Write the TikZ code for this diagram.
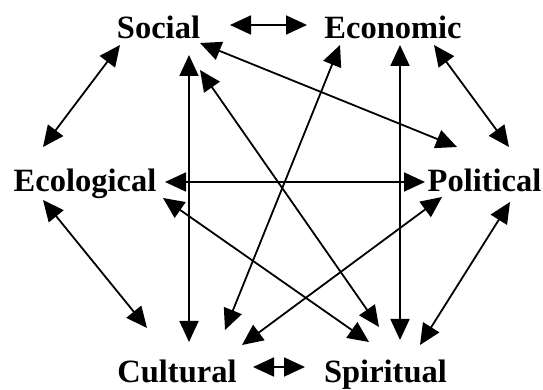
\documentclass[tikz,border=0pt]{standalone}
\usepackage{fontspec}
\setmainfont{Liberation Serif}
\usepackage{tikz}
\usetikzlibrary{arrows.meta, calc}

\begin{document}
\begin{tikzpicture}[x=1pt, y=1pt, >={Triangle[length=21pt, width=19pt]}, line width=1.8pt,
        dim/.style={font=\bfseries\fontsize{32.5}{36}\selectfont, inner sep=0pt, anchor=base}]
            \useasboundingbox (0, 0) rectangle (543, 390);
            \node[dim] (soc) at (158.5, 351) {Social};
            \node[dim] (econ) at (393, 351) {Economic};
            \node[dim] (ecol) at (85, 198) {Ecological};
            \node[dim] (pol) at (484.5, 198) {Political};
            \node[dim] (cult) at (177, 7) {Cultural};
            \node[dim] (spir) at (385.5, 7) {Spiritual};
            % around the ring
            \draw[<->] ($(soc.base)+(71.5, 14)$) -- ($(econ.base)+(-86, 14)$);
            \draw[<->] ($(soc.base)+(-38.5, -6)$) -- ($(ecol.base)+(-42, 45)$);
            \draw[<->] ($(econ.base)+(41, -6)$) -- ($(pol.base)+(24.5, 45)$);
            \draw[<->] ($(ecol.base)+(-42, -8)$) -- ($(cult.base)+(-30, 55)$);
            \draw[<->] ($(pol.base)+(25.5, -10)$) -- ($(spir.base)+(34.5, 38)$);
            \draw[<->] ($(cult.base)+(76, 16)$) -- ($(spir.base)+(-80.5, 16)$);
            % across
            \draw[<->] ($(soc.base)+(30.5, -16)$) -- ($(cult.base)+(12, 41)$);
            \draw[<->] ($(soc.base)+(41.5, -31)$) -- ($(spir.base)+(-6.5, 56)$);
            \draw[<->] ($(soc.base)+(41.5, -4)$) -- ($(pol.base)+(-27.5, 45)$);
            \draw[<->] ($(econ.base)+(-53, -6)$) -- ($(cult.base)+(48, 53)$);
            \draw[<->] ($(econ.base)+(7, -6)$) -- ($(spir.base)+(14.5, 43)$);
            \draw[<->] ($(ecol.base)+(80, 10)$) -- ($(pol.base)+(-59.5, 10)$);
            \draw[<->] ($(ecol.base)+(78, -6)$) -- ($(spir.base)+(-16.5, 41)$);
            \draw[<->] ($(pol.base)+(-42.5, -5)$) -- ($(cult.base)+(65, 38)$);
        \end{tikzpicture}
\end{document}
